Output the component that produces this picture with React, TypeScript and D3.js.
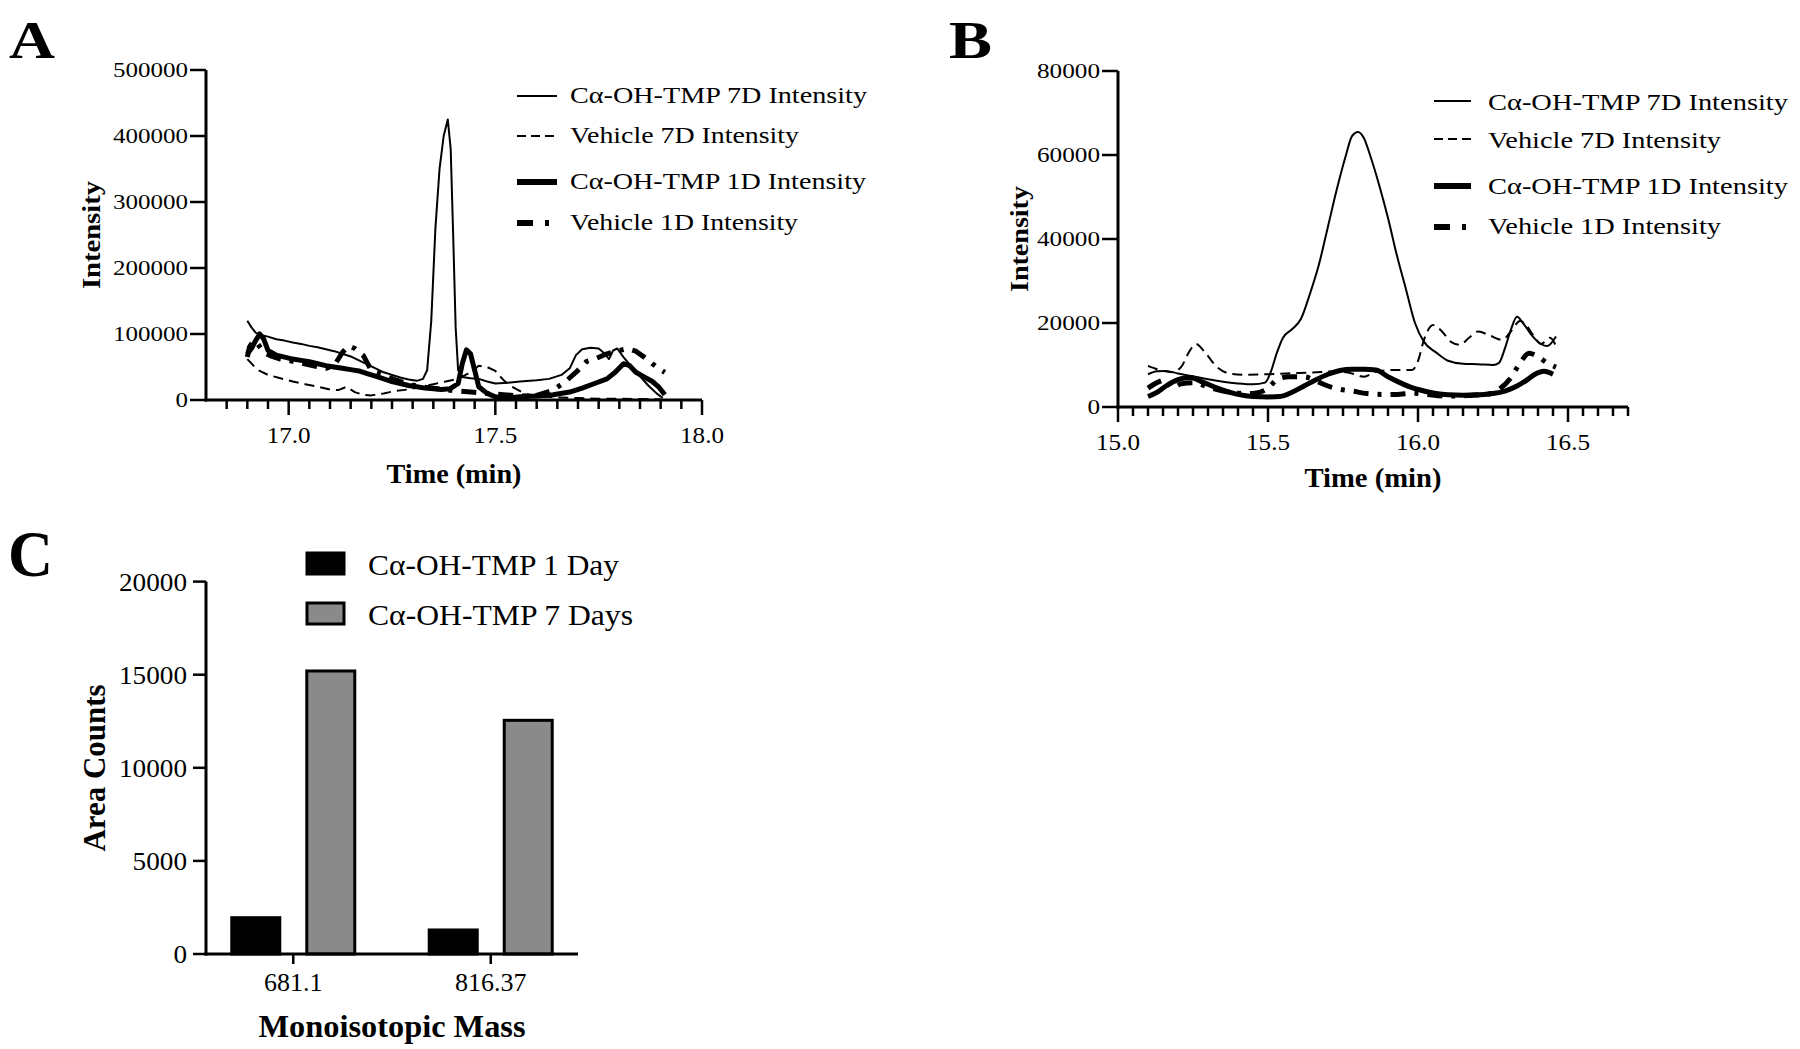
import React from 'react';
import * as d3 from 'd3';

type Pt = [number, number];

// ---------------- Panel A data (Time min, Intensity) ----------------
const A_CA_7D: Pt[] = [
  [16.900,120000],[16.910,110000],[16.920,102000],[16.935,98000],[16.950,96000],[16.970,92000],[16.990,90000],
  [17.010,87000],[17.030,85000],[17.050,82000],[17.070,80000],[17.090,77000],[17.110,74000],[17.130,70000],
  [17.150,66000],[17.170,60000],[17.190,54000],[17.210,48000],[17.230,42000],[17.250,38000],[17.270,34000],
  [17.290,31000],[17.310,29000],[17.325,32000],[17.335,45000],[17.345,120000],[17.355,260000],[17.365,350000],
  [17.375,400000],[17.385,425000],[17.392,380000],[17.398,250000],[17.404,110000],[17.410,45000],[17.420,35000],
  [17.440,33000],[17.460,32000],[17.480,28000],[17.500,25000],[17.530,26000],[17.560,28000],[17.600,30000],
  [17.630,32000],[17.660,38000],[17.680,48000],[17.695,68000],[17.710,77000],[17.730,79000],[17.750,78000],
  [17.765,70000],[17.775,62000],[17.785,75000],[17.795,78000],[17.810,65000],[17.830,50000],[17.850,36000],
  [17.870,22000],[17.890,10000],[17.905,3000]
];
const A_VEH_7D: Pt[] = [
  [16.900,62000],[16.915,52000],[16.930,44000],[16.950,38000],[16.980,33000],[17.010,28000],[17.040,24000],
  [17.070,20000],[17.100,16000],[17.120,15000],[17.140,20000],[17.160,12000],[17.180,8000],[17.200,7000],
  [17.230,10000],[17.260,14000],[17.290,16000],[17.320,20000],[17.350,24000],[17.380,28000],[17.410,32000],
  [17.440,42000],[17.460,52000],[17.480,50000],[17.500,44000],[17.520,30000],[17.540,20000],[17.570,10000],
  [17.600,6000],[17.650,4000],[17.700,3000],[17.750,2000],[17.800,2000],[17.850,1500],[17.900,1000]
];
const A_CA_1D: Pt[] = [
  [16.900,70000],[16.910,78000],[16.920,90000],[16.930,100000],[16.940,92000],[16.950,75000],[16.970,68000],
  [16.990,65000],[17.010,62000],[17.030,60000],[17.050,58000],[17.070,55000],[17.090,52000],[17.110,50000],
  [17.130,48000],[17.150,46000],[17.170,44000],[17.190,40000],[17.210,36000],[17.230,32000],[17.250,28000],
  [17.270,25000],[17.290,22000],[17.310,20000],[17.330,18000],[17.350,17000],[17.370,16000],[17.390,17000],
  [17.410,25000],[17.420,55000],[17.430,76000],[17.440,70000],[17.450,45000],[17.460,20000],[17.480,10000],
  [17.500,5000],[17.530,3000],[17.560,5000],[17.600,6000],[17.640,8000],[17.680,12000],[17.710,18000],
  [17.740,25000],[17.770,32000],[17.790,42000],[17.810,55000],[17.825,52000],[17.840,42000],[17.860,35000],
  [17.880,28000],[17.895,20000],[17.910,8000]
];
const A_VEH_1D: Pt[] = [
  [16.900,65000],[16.905,80000],[16.915,90000],[16.925,85000],[16.940,72000],[16.960,66000],[16.980,62000],
  [17.000,60000],[17.030,56000],[17.060,52000],[17.090,48000],[17.110,52000],[17.130,72000],[17.145,82000],
  [17.160,78000],[17.180,68000],[17.200,45000],[17.230,38000],[17.260,30000],[17.290,24000],[17.320,20000],
  [17.360,17000],[17.400,14000],[17.440,12000],[17.480,10000],[17.520,8000],[17.560,6000],[17.600,7000],
  [17.640,15000],[17.670,28000],[17.700,45000],[17.720,58000],[17.740,62000],[17.770,70000],[17.800,75000],
  [17.820,78000],[17.840,74000],[17.860,65000],[17.880,55000],[17.900,46000],[17.910,42000]
];
const A_Y_TICKS = [0, 100000, 200000, 300000, 400000, 500000];
const A_X_MAJOR = [17.0, 17.5, 18.0];
const A_X_LABELS = ['17.0', '17.5', '18.0'];

// ---------------- Panel B data ----------------
const B_CA_7D: Pt[] = [
  [15.100,7800],[15.130,8500],[15.160,8600],[15.200,8000],[15.250,7300],[15.300,6600],[15.350,6000],
  [15.400,5600],[15.450,5400],[15.490,5800],[15.510,8500],[15.530,13000],[15.550,16500],[15.580,18500],
  [15.610,21000],[15.640,27000],[15.670,34000],[15.700,43000],[15.730,52000],[15.760,60000],[15.780,64500],
  [15.800,65500],[15.820,64000],[15.840,60000],[15.870,53000],[15.900,45000],[15.930,36000],[15.960,28000],
  [15.990,20000],[16.020,15500],[16.060,13000],[16.100,11000],[16.150,10300],[16.200,10200],[16.250,10000],
  [16.270,10500],[16.290,14000],[16.310,18500],[16.330,21500],[16.350,20000],[16.380,17000],[16.410,15000],
  [16.430,14500],[16.460,16800]
];
const B_VEH_7D: Pt[] = [
  [15.100,9800],[15.140,8800],[15.180,8300],[15.210,9500],[15.240,13500],[15.260,15000],[15.290,13000],
  [15.330,9500],[15.370,8000],[15.420,7700],[15.500,7800],[15.560,8000],[15.650,8200],[15.720,8500],
  [15.780,8000],[15.820,7200],[15.860,8400],[15.920,8800],[15.980,8800],[16.000,11000],[16.020,16000],
  [16.050,19500],[16.080,18000],[16.110,15500],[16.140,14800],[16.170,16500],[16.200,18000],[16.240,17000],
  [16.280,16000],[16.310,18000],[16.340,20500],[16.360,19500],[16.390,16500],[16.410,15000],[16.440,16500],
  [16.460,14500]
];
const B_CA_1D: Pt[] = [
  [15.100,2500],[15.130,3500],[15.160,5000],[15.200,6500],[15.240,7000],[15.280,6000],[15.320,4800],
  [15.360,3800],[15.400,3000],[15.450,2500],[15.500,2400],[15.540,2500],[15.580,3500],[15.620,5000],
  [15.660,6500],[15.700,7800],[15.740,8700],[15.780,9000],[15.820,9000],[15.860,8800],[15.900,7200],
  [15.940,5800],[15.980,4600],[16.020,3800],[16.060,3200],[16.100,2900],[16.150,2800],[16.200,2900],
  [16.250,3200],[16.290,3800],[16.330,5000],[16.360,6300],[16.390,7800],[16.420,8500],[16.450,7800]
];
const B_VEH_1D: Pt[] = [
  [15.100,4500],[15.130,5800],[15.160,6500],[15.180,4500],[15.210,5500],[15.250,5800],[15.300,4800],
  [15.350,3800],[15.400,3300],[15.450,3200],[15.500,4500],[15.530,6500],[15.570,7200],[15.620,7200],
  [15.660,6200],[15.700,5000],[15.740,4200],[15.780,3800],[15.830,3200],[15.880,3000],[15.930,3000],
  [15.980,3300],[16.030,3000],[16.080,2600],[16.130,2600],[16.180,2800],[16.230,3000],[16.270,4200],
  [16.310,7000],[16.340,10500],[16.370,12800],[16.400,12000],[16.430,10500],[16.460,9500]
];
const B_Y_TICKS = [0, 20000, 40000, 60000, 80000];
const B_X_MAJOR = [15.0, 15.5, 16.0, 16.5];
const B_X_LABELS = ['15.0', '15.5', '16.0', '16.5'];

const LEGEND_LABELS = ['Cα-OH-TMP 7D Intensity', 'Vehicle 7D Intensity', 'Cα-OH-TMP 1D Intensity', 'Vehicle 1D Intensity'];

// ---------------- Panel C data ----------------
const C_CATEGORIES = ['681.1', '816.37'];
const C_SERIES = ['Cα-OH-TMP 1 Day', 'Cα-OH-TMP 7 Days'];
const C_DAY1 = [1950, 1290];
const C_DAY7 = [15200, 12550];
const C_Y_TICKS = [0, 5000, 10000, 15000, 20000];

const FONT = "'Liberation Serif','Times New Roman',Times,serif";

const STYLES = [
  { w: 2, dash: undefined as string | undefined, legDash: undefined as string | undefined },
  { w: 2, dash: '10,6', legDash: '9,5' },
  { w: 5, dash: undefined, legDash: undefined },
  { w: 5, dash: '15,9,4,9', legDash: '16,12,4,12' },
];

function Txt(p: any) {
  const { x, y, size, bold, anchor, len, rotate, children } = p;
  return (
    <text
      x={x}
      y={y}
      fontSize={size}
      fontFamily={FONT}
      fontWeight={bold ? 'bold' : 'normal'}
      textAnchor={anchor || 'start'}
      textLength={len}
      lengthAdjust={len ? 'spacingAndGlyphs' : undefined}
      transform={rotate ? `rotate(${rotate},${x},${y})` : undefined}
      fill="#000"
    >
      {children}
    </text>
  );
}

function Chromatogram(props: any) {
  const {
    letter, letterX, letterLen, xDomain, xRange, yDomain, yRange, series, yTicks, xMajor, xLabels,
    minorFrom, minorTo, yLabelRight, yLabelSize, yDigitW, yTickLeft, xLabelBase, xTitleBase, xTitleLen,
    yTitleX, yTitleLen, legLineX0, legLineX1, legTextX, legBase, legLineY, legLens, legSize, curve,
  } = props;
  const x = d3.scaleLinear().domain(xDomain).range(xRange);
  const y = d3.scaleLinear().domain(yDomain).range(yRange);
  const line = d3.line<Pt>().x(d => x(d[0])).y(d => y(d[1])).curve(curve);
  const minors = d3.range(Math.round((minorTo - minorFrom) / 0.05) + 1)
    .map(i => Math.round((minorFrom + i * 0.05) * 100) / 100)
    .filter(v => !xMajor.some((m: number) => Math.abs(m - v) < 1e-6));
  const y0 = y(0);
  const xMid = (xRange[0] + xRange[1]) / 2;
  const yMid = (yRange[0] + yRange[1]) / 2;
  return (
    <g>
      <Txt x={letterX} y={58} size={52} bold len={letterLen}>{letter}</Txt>
      {series.map((s: Pt[], i: number) => (
        <path key={i} d={line(s) || ''} fill="none" stroke="#000" strokeWidth={STYLES[i].w}
          strokeDasharray={STYLES[i].dash} strokeLinejoin="round" />
      ))}
      <line x1={xRange[0]} x2={xRange[0]} y1={y0 + 1.5} y2={yRange[1]} stroke="#000" strokeWidth={3} />
      <line x1={xRange[0] - 1.5} x2={xRange[1]} y1={y0} y2={y0} stroke="#000" strokeWidth={3} />
      {yTicks.map((t: number) => (
        <g key={t}>
          <line x1={yTickLeft} x2={xRange[0]} y1={y(t)} y2={y(t)} stroke="#000" strokeWidth={2.5} />
          <Txt x={yLabelRight} y={y(t) + 7} size={yLabelSize} anchor="end" len={String(t).length * yDigitW}>{String(t)}</Txt>
        </g>
      ))}
      {xMajor.map((t: number, i: number) => (
        <g key={t}>
          <line x1={x(t)} x2={x(t)} y1={y0} y2={y0 + 15} stroke="#000" strokeWidth={2.5} />
          <Txt x={x(t)} y={xLabelBase} size={23} anchor="middle" len={44}>{xLabels[i]}</Txt>
        </g>
      ))}
      {minors.map((t: number) => (
        <line key={t} x1={x(t)} x2={x(t)} y1={y0} y2={y0 + 9} stroke="#000" strokeWidth={2.5} />
      ))}
      <Txt x={xMid} y={xTitleBase} size={28} bold anchor="middle" len={xTitleLen}>Time (min)</Txt>
      <Txt x={yTitleX} y={yMid} size={25} bold anchor="middle" rotate={-90} len={yTitleLen}>Intensity</Txt>
      {LEGEND_LABELS.map((lab, i) => (
        <g key={lab}>
          <line x1={legLineX0} x2={legLineX1} y1={legLineY[i]} y2={legLineY[i]} stroke="#000"
            strokeWidth={STYLES[i].w + (i >= 2 ? 1 : 0)} strokeDasharray={STYLES[i].legDash} />
          <Txt x={legTextX} y={legBase[i]} size={legSize} len={legLens[i]}>{lab}</Txt>
        </g>
      ))}
    </g>
  );
}

function BarPanel() {
  const yRange = [954, 581.6];
  const y = d3.scaleLinear().domain([0, 20000]).range(yRange);
  const x0 = d3.scalePoint<string>().domain(C_CATEGORIES).range([206, 578]).padding(0.442);
  const x1 = d3.scaleBand<string>().domain(C_SERIES).range([-61.5, 61.5]).paddingInner(0.36);
  const fills = ['#000', '#8a8a8a'];
  const values = [C_DAY1, C_DAY7];
  return (
    <g>
      <Txt x={8} y={576} size={66} bold len={45}>C</Txt>
      {C_CATEGORIES.map((c, ci) => (
        <g key={c}>
          {C_SERIES.map((s, si) => {
            const v = values[si][ci];
            const bx = (x0(c) as number) + (x1(s) as number);
            return (
              <rect key={s} x={bx} y={y(v)} width={x1.bandwidth()} height={y(0) - y(v)}
                fill={fills[si]} stroke="#000" strokeWidth={3} />
            );
          })}
        </g>
      ))}
      <line x1={206} x2={206} y1={955.5} y2={yRange[1]} stroke="#000" strokeWidth={3} />
      <line x1={204.5} x2={578} y1={954} y2={954} stroke="#000" strokeWidth={3} />
      {C_Y_TICKS.map(t => (
        <g key={t}>
          <line x1={193} x2={206} y1={y(t)} y2={y(t)} stroke="#000" strokeWidth={2.5} />
          <Txt x={187} y={y(t) + 9} size={26} anchor="end" len={String(t).length * 13.6}>{String(t)}</Txt>
        </g>
      ))}
      {C_CATEGORIES.map(c => (
        <g key={c}>
          <line x1={x0(c)} x2={x0(c)} y1={954} y2={964} stroke="#000" strokeWidth={2.5} />
          <Txt x={x0(c)} y={991} size={26} anchor="middle">{c}</Txt>
        </g>
      ))}
      <Txt x={392} y={1037} size={32} bold anchor="middle" len={267}>Monoisotopic Mass</Txt>
      <Txt x={105} y={768} size={31} bold anchor="middle" rotate={-90} len={167}>Area Counts</Txt>
      {C_SERIES.map((s, i) => (
        <g key={s}>
          <rect x={307} y={553 + i * 50} width={37} height={21} fill={fills[i]} stroke="#000" strokeWidth={3} />
          <Txt x={368} y={575 + i * 50} size={29} len={i === 0 ? 251 : 265}>{s}</Txt>
        </g>
      ))}
    </g>
  );
}

export default function App() {
  return (
    <svg width={1800} height={1049} viewBox="0 0 1800 1049"
      style={{ position: 'absolute', left: 0, top: 0, background: '#fff' }}>
      <rect x={0} y={0} width={1800} height={1049} fill="#fff" />
      <Chromatogram
        letter="A" letterX={9} letterLen={46}
        xDomain={[16.8, 18.0]} xRange={[206, 702]} yDomain={[0, 500000]} yRange={[400, 70]}
        series={[A_CA_7D, A_VEH_7D, A_CA_1D, A_VEH_1D]}
        yTicks={A_Y_TICKS} xMajor={A_X_MAJOR} xLabels={A_X_LABELS}
        minorFrom={16.85} minorTo={17.95}
        yLabelRight={188} yLabelSize={21} yDigitW={12.5} yTickLeft={190}
        xLabelBase={443} xTitleBase={483} xTitleLen={135}
        yTitleX={100} yTitleLen={108}
        legLineX0={517} legLineX1={557} legTextX={570}
        legBase={[103, 143, 189, 230]} legLineY={[96, 136, 182, 223]} legLens={[297, 229, 296, 228]} legSize={24}
        curve={d3.curveLinear}
      />
      <Chromatogram
        letter="B" letterX={949} letterLen={43}
        xDomain={[15.0, 16.7]} xRange={[1118, 1628]} yDomain={[0, 80000]} yRange={[407, 71]}
        series={[B_CA_7D, B_VEH_7D, B_CA_1D, B_VEH_1D]}
        yTicks={B_Y_TICKS} xMajor={B_X_MAJOR} xLabels={B_X_LABELS}
        minorFrom={15.05} minorTo={16.7}
        yLabelRight={1100} yLabelSize={21} yDigitW={12.6} yTickLeft={1102}
        xLabelBase={450} xTitleBase={487} xTitleLen={137}
        yTitleX={1028} yTitleLen={106}
        legLineX0={1434} legLineX1={1471} legTextX={1488}
        legBase={[110, 148, 194, 234]} legLineY={[101, 139, 186, 227]} legLens={[300, 233, 300, 233]} legSize={24}
        curve={d3.curveMonotoneX}
      />
      <BarPanel />
    </svg>
  );
}
